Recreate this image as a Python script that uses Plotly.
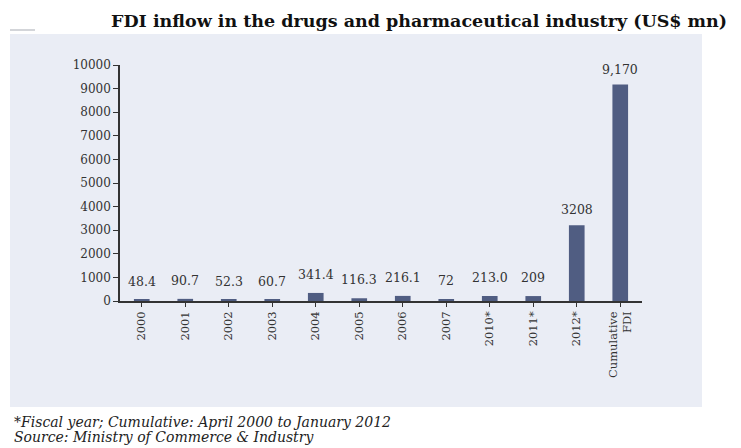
import plotly.graph_objects as go

categories = ["2000", "2001", "2002", "2003", "2004", "2005", "2006", "2007",
              "2010*", "2011*", "2012*", "Cumulative<br>FDI"]
values = [48.4, 90.7, 52.3, 60.7, 341.4, 116.3, 216.1, 72, 213.0, 209, 3208, 9170]
value_labels = ["48.4", "90.7", "52.3", "60.7", "341.4", "116.3", "216.1", "72",
                "213.0", "209", "3208", "9,170"]
y_ticks = [0, 1000, 2000, 3000, 4000, 5000, 6000, 7000, 8000, 9000, 10000]

title_text = "FDI inflow in the drugs and pharmaceutical industry (US$ mn)"
note1 = "*Fiscal year; Cumulative: April 2000 to January 2012"
note2 = "Source: Ministry of Commerce &amp; Industry"

SERIF = "DejaVu Serif"
W, H = 741, 448
L, R, T, B = 120, 99, 65, 147
pw, ph = W - L - R, H - T - B


def px_x(x):
    return (x - L) / pw


def px_y(y):
    return (H - B - y) / ph


fig = go.Figure()
fig.add_trace(go.Bar(
    x=list(range(len(categories))),
    y=values,
    marker=dict(color="#505d82", line=dict(width=0)),
    width=0.36,
    hoverinfo="skip",
))

for i, (v, t) in enumerate(zip(values, value_labels)):
    fig.add_annotation(x=i, y=v, xref="x", yref="y", text=t, showarrow=False,
                       yanchor="bottom", yshift=6 if v > 1000 else 9,
                       font=dict(family=SERIF, size=12.5, color="#333"))

# panel background
fig.add_shape(type="rect", xref="paper", yref="paper",
              x0=px_x(10), x1=px_x(702), y0=px_y(407), y1=px_y(34),
              fillcolor="#eaedf5", line=dict(width=0), layer="below")
fig.add_shape(type="line", xref="paper", yref="paper",
              x0=px_x(10), x1=px_x(35), y0=px_y(30), y1=px_y(30),
              line=dict(color="#c4c7cd", width=1.5), layer="below")

fig.add_annotation(xref="paper", yref="paper", x=px_x(109), y=px_y(21),
                   xanchor="left", yanchor="middle", text="<b>" + title_text + "</b>",
                   showarrow=False, font=dict(family=SERIF, size=17.5, color="#111"))
fig.add_annotation(xref="paper", yref="paper", x=px_x(12), y=px_y(422),
                   xanchor="left", yanchor="middle", text="<i>" + note1 + "</i>",
                   showarrow=False, font=dict(family=SERIF, size=14, color="#222"))
fig.add_annotation(xref="paper", yref="paper", x=px_x(12), y=px_y(437),
                   xanchor="left", yanchor="middle", text="<i>" + note2 + "</i>",
                   showarrow=False, font=dict(family=SERIF, size=14, color="#222"))

fig.update_layout(
    width=W, height=H,
    margin=dict(l=L, r=R, t=T, b=B, pad=0),
    paper_bgcolor="white",
    plot_bgcolor="rgba(0,0,0,0)",
    showlegend=False,
    xaxis=dict(
        range=[-0.5, 11.5],
        tickmode="array",
        tickvals=list(range(len(categories))),
        ticktext=categories,
        tickangle=-90,
        showline=True, linecolor="#333", linewidth=1.5,
        ticks="outside", ticklen=4, tickcolor="#333",
        showgrid=False, zeroline=False,
        tickfont=dict(family=SERIF, size=11.5, color="#333"),
    ),
    yaxis=dict(
        range=[0, 10000],
        tickmode="array",
        tickvals=y_ticks,
        ticktext=[str(v) for v in y_ticks],
        showline=True, linecolor="#333", linewidth=1.5,
        ticks="outside", ticklen=5, tickcolor="#333",
        showgrid=False, zeroline=False,
        tickfont=dict(family=SERIF, size=12, color="#333"),
    ),
)

fig.write_html("out.html")
